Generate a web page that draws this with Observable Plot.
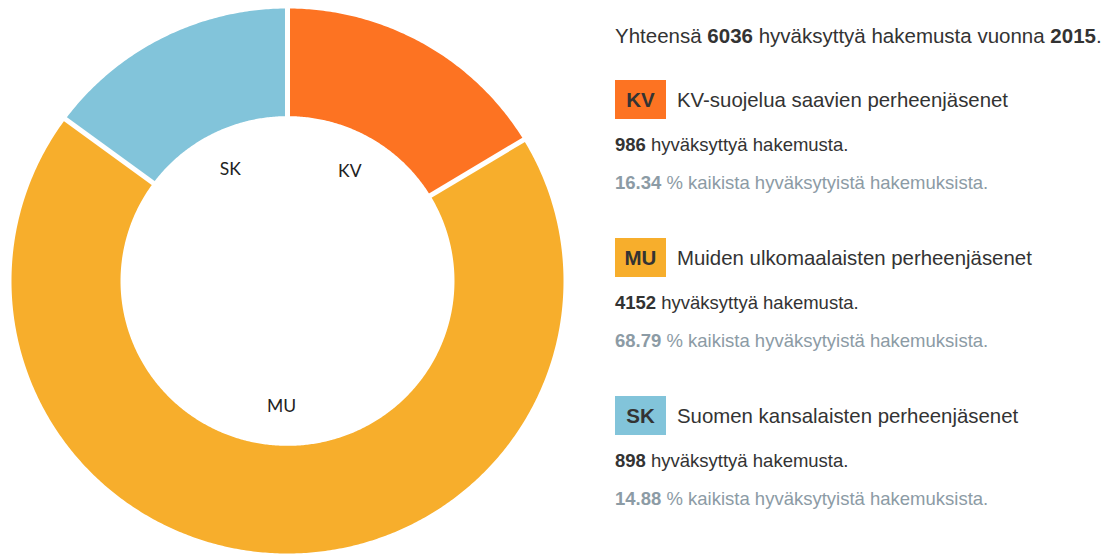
<!DOCTYPE html>
<html>
<head>
<meta charset="utf-8">
<script src="https://cdn.jsdelivr.net/npm/d3@7"></script>
<script src="https://cdn.jsdelivr.net/npm/@observablehq/plot@0.6"></script>
<style>
  html, body { margin: 0; padding: 0; background: #fff; }
  #wrap { position: relative; width: 1113px; height: 556px; overflow: hidden; font-family: "Liberation Sans", Arial, sans-serif; color: #333; }
  #chart { position: absolute; left: 0; top: 0; }
  .t { position: absolute; left: 615px; white-space: nowrap; line-height: 1; }
  .title { font-size: 20.5px; }
  .box { position: absolute; left: 615px; width: 51px; height: 39px; font-weight: bold; font-size: 20.5px; text-align: center; line-height: 39px; color: #333; }
  .name { position: absolute; left: 677px; font-size: 20.4px; line-height: 1; white-space: nowrap; }
  .count { font-size: 18.5px; }
  .pct { font-size: 18.5px; color: #8c9ba5; }
</style>
</head>
<body>
<div id="wrap">
  <div id="chart"></div>
  <div id="legend"></div>
</div>
<script>
// ---- data ----
const keys = ["KV", "MU", "SK"];
const names = [
  "KV-suojelua saavien perheenjäsenet",
  "Muiden ulkomaalaisten perheenjäsenet",
  "Suomen kansalaisten perheenjäsenet"
];
const counts = [986, 4152, 898];
const colors = ["#fd7322", "#f7ae2c", "#82c4da"];
const total = 6036;
const year = 2015;

// ---- geometry from data ----
const innerR = 0.605, outerR = 1, labelR = 0.46;
const pie = d3.pie().sort(null).value(d => d)(counts);
const TAU = 2 * Math.PI;

const slicePts = keys.map((k, i) => {
  const a0 = pie[i].startAngle, a1 = pie[i].endAngle;
  const n = Math.max(2, Math.ceil((a1 - a0) / (TAU / 720)));
  const pts = [];
  for (let j = 0; j <= n; j++) {
    const a = a0 + (a1 - a0) * j / n;
    pts.push({key: k, x: outerR * Math.sin(a), y: outerR * Math.cos(a)});
  }
  for (let j = n; j >= 0; j--) {
    const a = a0 + (a1 - a0) * j / n;
    pts.push({key: k, x: innerR * Math.sin(a), y: innerR * Math.cos(a)});
  }
  pts.push(pts[0]);
  return pts;
});

const bounds = pie.map(p => p.startAngle).map(a => ({
  x1: (innerR - 0.02) * Math.sin(a), y1: (innerR - 0.02) * Math.cos(a),
  x2: (outerR + 0.02) * Math.sin(a), y2: (outerR + 0.02) * Math.cos(a)
}));

const labels = keys.map((k, i) => {
  const a = (pie[i].startAngle + pie[i].endAngle) / 2;
  return {key: k, x: labelR * Math.sin(a), y: labelR * Math.cos(a)};
});

const chart = Plot.plot({
  width: 580,
  height: 556,
  marginLeft: 11,
  marginRight: 17,
  marginTop: 8,
  marginBottom: 3,
  x: {domain: [-1, 1], axis: null},
  y: {domain: [-1, 1], axis: null},
  marks: [
    ...slicePts.map((pts, i) => Plot.line(pts, {x: "x", y: "y", fill: colors[i], stroke: "none"})),
    Plot.link(bounds, {x1: "x1", y1: "y1", x2: "x2", y2: "y2", stroke: "#fff", strokeWidth: 5}),
    Plot.text(labels, {x: "x", y: "y", text: "key", fontSize: 17.5, fill: "#222", fontFamily: "Lato, sans-serif"})
  ]
});
document.getElementById("chart").appendChild(chart);

// ---- legend ----
const lg = document.getElementById("legend");
function el(cls, top, html, extra) {
  const d = document.createElement("div");
  d.className = cls;
  d.style.top = top + "px";
  d.innerHTML = html;
  if (extra) Object.assign(d.style, extra);
  lg.appendChild(d);
}
el("t title", 25.6, `Yhteensä <b>${total}</b> hyväksyttyä hakemusta vuonna <b>${year}</b>.`);
keys.forEach((k, i) => {
  const off = i * 158;
  el("box", 80 + off, k, {background: colors[i]});
  el("name", 89.7 + off, names[i]);
  el("t count", 136.3 + off, `<b>${counts[i]}</b> hyväksyttyä hakemusta.`);
  el("t pct", 174.3 + off, `<b>${(counts[i] / total * 100).toFixed(2)}</b> % kaikista hyväksytyistä hakemuksista.`);
});
</script>
</body>
</html>
